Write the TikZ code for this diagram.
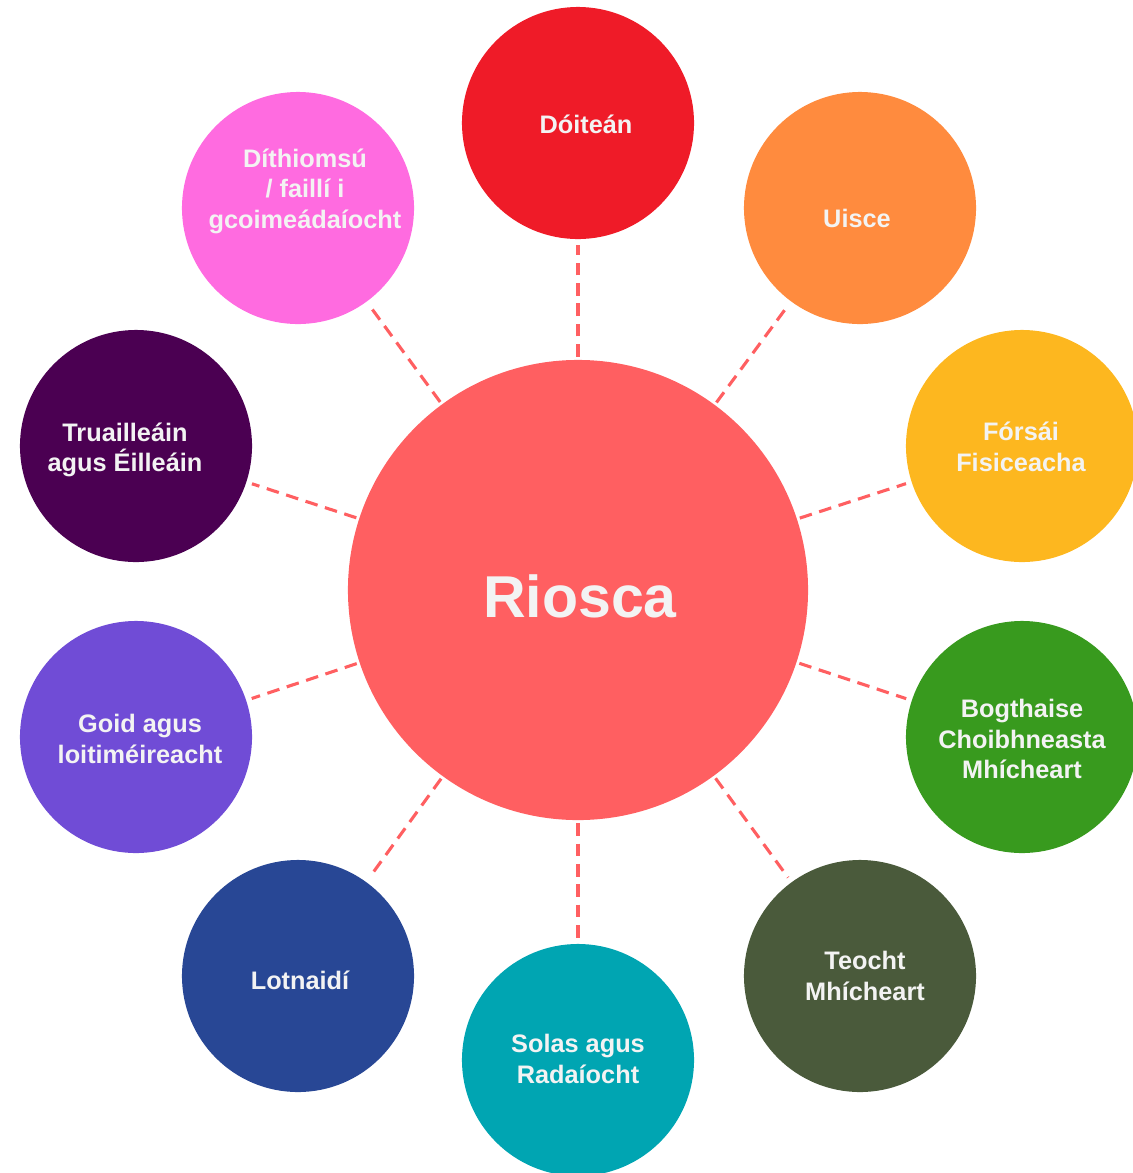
\documentclass[tikz,border=0pt]{standalone}
\usepackage{fontspec}
\setmainfont{Liberation Sans}
\usepackage{tikz}

\definecolor{riosca}{RGB}{255,95,97}
\definecolor{doitean}{RGB}{239,27,40}
\definecolor{uisce}{RGB}{255,139,62}
\definecolor{forsai}{RGB}{253,183,31}
\definecolor{bogthaise}{RGB}{56,154,30}
\definecolor{teocht}{RGB}{74,90,59}
\definecolor{solas}{RGB}{0,165,178}
\definecolor{lotnaidi}{RGB}{40,71,149}
\definecolor{goid}{RGB}{112,76,214}
\definecolor{truailleain}{RGB}{75,0,82}
\definecolor{dithiomsu}{RGB}{255,107,224}
\definecolor{bantext}{RGB}{243,243,243}

\tikzset{
  bubble/.style={circle, minimum size=5.8cm, inner sep=0pt, text=bantext,
    font=\fontsize{18}{21.7}\selectfont\bfseries, align=center},
  hub/.style={circle, minimum size=11.5cm, inner sep=0pt, fill=riosca, text=bantext,
    font=\fontsize{42}{48}\selectfont\bfseries},
  link/.style={draw=riosca, line width=2.2pt, dash pattern=on 9pt off 5.5pt,
    shorten <=2pt, shorten >=4pt}
}

\begin{document}
\begin{tikzpicture}[x=0.025cm, y=-0.025cm]
     \useasboundingbox (0,0) rectangle (1133,1173);

            \node[hub] (riosca) at (578,590) {};
            \node[text=bantext, font=\fontsize{42}{48}\selectfont\bfseries] (rioscatext) at (580,596) {Riosca};

            \node[bubble, fill=doitean] (doitean) at (578,123) {};
            \node[bubble, fill=uisce] (uisce) at (860,208) {};
            \node[bubble, fill=forsai] (forsai) at (1022,446) {};
            \node[bubble, fill=bogthaise] (bogthaise) at (1022,737) {};
            \node[bubble, fill=teocht] (teocht) at (860,976) {};
            \node[bubble, fill=solas] (solas) at (578,1060) {};
            \node[bubble, fill=lotnaidi] (lotnaidi) at (298,976) {};
            \node[bubble, fill=goid] (goid) at (136,737) {};
            \node[bubble, fill=truailleain] (truailleain) at (136,446) {};
            \node[bubble, fill=dithiomsu] (dithiomsu) at (298,208) {};

            % labels, a little off centre as in the sketch
            \node[bubble] (doiteanlbl) at (586,124) {D\'oite\'an};
            \node[bubble] (uiscelbl) at (857,218) {Uisce};
            \node[bubble] (forsailbl) at (1021,447) {F\'ors\'ai\\Fisiceacha};
            \node[bubble] (bogthaiselbl) at (1022,739) {Bogthaise\\Choibhneasta\\Mh\'icheart};
            \node[bubble] (teochtlbl) at (865,976) {Teocht\\Mh\'icheart};
            \node[bubble] (solaslbl) at (578,1059) {Solas agus\\Rada\'iocht};
            \node[bubble] (lotnaidilbl) at (300,980) {Lotnaid\'i};
            \node[bubble] (goidlbl) at (140,739) {Goid agus\\loitim\'eireacht};
            \node[bubble] (truailleainlbl) at (125,450) {Truailleáin\\agus Éilleáin};
            \node[bubble] (dithiomsulbl) at (305,191) {D\'ithiomsú\\/ faill\'i i\\gcoime\'ada\'iocht};

            \foreach \spoke in {doitean,uisce,forsai,bogthaise,teocht,solas,lotnaidi,goid,truailleain,dithiomsu}
              \draw[link] (riosca) -- (\spoke);
     \end{tikzpicture}
\end{document}
